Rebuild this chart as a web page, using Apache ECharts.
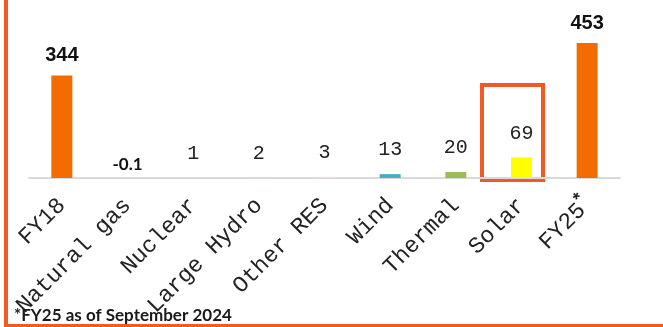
<!DOCTYPE html>
<html>
<head>
<meta charset="utf-8">
<script src="https://cdn.jsdelivr.net/npm/echarts@6/dist/echarts.min.js"></script>
<style>html,body{margin:0;padding:0;background:#fff}#c{width:663px;height:327px}</style>
</head>
<body>
<div id="c"></div>
<script>
const categories = ['FY18', 'Natural gas', 'Nuclear', 'Large Hydro', 'Other RES', 'Wind', 'Thermal', 'Solar', 'FY25'];
const values = [344, -0.1, 1, 2, 3, 13, 20, 69, 453];
const valueLabels = ['344', '-0.1', '1', '2', '3', '13', '20', '69', '453'];
const footnote = '*FY25 as of September 2024';

const barColors = ['#F46B00', '#BFBFBF', '#D9D9D9', '#C6D9F1', '#F2DCDB', '#4BACC6', '#9BBB59', '#FFFF00', '#F46B00'];
const accent = '#F15A24';

const boldStyle = { fontFamily: 'Liberation Sans', fontWeight: 'bold', fontSize: 20, color: '#111', distance: 10 };
const smallBold = { fontFamily: 'Lato', fontWeight: 'bold', fontSize: 17, color: '#111', distance: 5 };
const monoStyle = { fontFamily: 'Liberation Mono', fontSize: 20, color: '#222', distance: 14 };

const data = values.map((v, i) => {
  let lab = monoStyle;
  if (i === 0 || i === categories.length - 1) lab = boldStyle;
  else if (v < 0) lab = smallBold;
  return {
    value: v,
    itemStyle: { color: barColors[i] },
    label: Object.assign({ show: true, position: 'top', formatter: valueLabels[i] }, lab)
  };
});

const chart = echarts.init(document.getElementById('c'), null, { renderer: 'canvas' });
chart.setOption({
  animation: false,
  backgroundColor: '#fff',
  title: {
    text: footnote, left: 9, top: 302,
    textStyle: { fontFamily: 'Lato', fontWeight: 'bold', fontSize: 17, color: '#1a1a1a' }
  },
  grid: { left: 29, right: 43, top: 29, bottom: 149, containLabel: false },
  xAxis: {
    type: 'category',
    data: categories,
    axisLine: { show: true, lineStyle: { color: '#D9D9D9', width: 2 } },
    axisTick: { show: false },
    axisLabel: {
      interval: 0, rotate: 45, margin: 24,
      fontFamily: 'Liberation Mono', fontSize: 23, color: '#222',
      formatter: function (v) { return v === 'FY25' ? '{a|FY25}{s|*}' : v; },
      rich: {
        a: { fontFamily: 'Liberation Mono', fontSize: 23, color: '#222' },
        s: { fontFamily: 'Liberation Sans', fontWeight: 'bold', fontSize: 18, color: '#222', padding: [0, 0, 16, 0], verticalAlign: 'bottom' }
      }
    }
  },
  yAxis: {
    type: 'value', min: 0, max: 500, show: false,
    splitLine: { show: false }
  },
  series: [{
    type: 'bar',
    data: data,
    barWidth: 21
  }],
  graphic: [
    { type: 'rect', shape: { x: 4, y: 0, width: 4, height: 327 }, style: { fill: accent }, silent: true },
    { type: 'rect', shape: { x: 4, y: 324, width: 659, height: 3 }, style: { fill: accent }, silent: true },
    { type: 'rect', shape: { x: 482, y: 85, width: 61, height: 95 }, style: { fill: 'none', stroke: accent, lineWidth: 4 }, silent: true }
  ]
});
</script>
</body>
</html>
